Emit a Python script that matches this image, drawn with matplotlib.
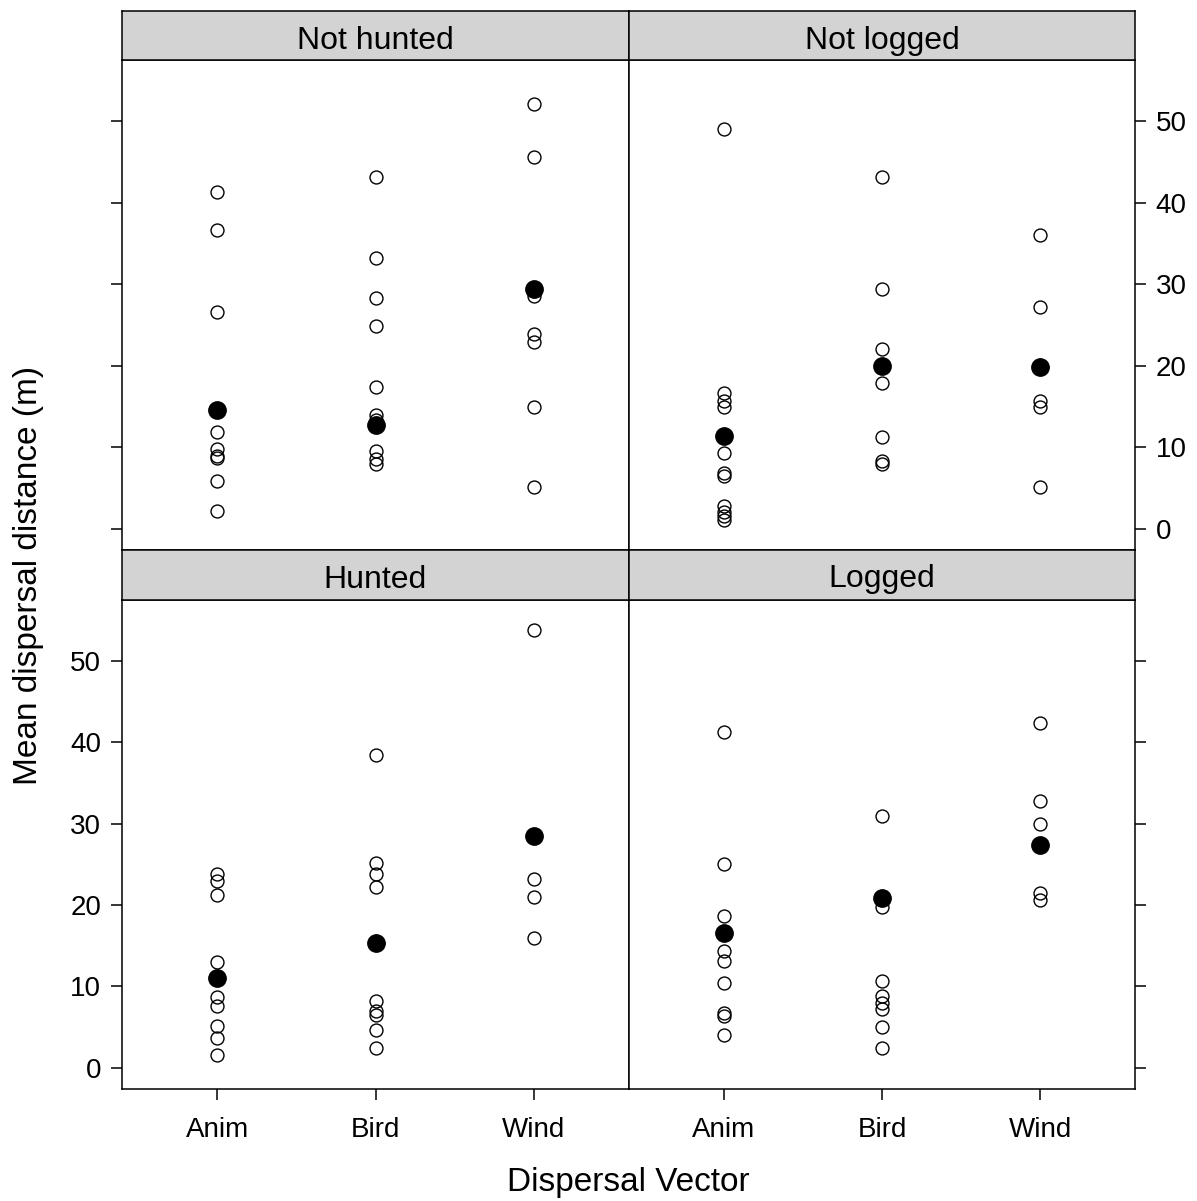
import matplotlib
matplotlib.use('Agg')
import matplotlib.pyplot as plt

plt.rcParams['font.family'] = ['Liberation Sans', 'DejaVu Sans']

# ==============================
# Data
# ==============================

vectors = ['Anim', 'Bird', 'Wind']
panels = ['Not hunted', 'Not logged', 'Hunted', 'Logged']

# individual species values
not_hunted_anim = [41.3, 36.6, 26.6, 11.9, 9.8, 8.9, 8.7, 5.9, 2.2]
not_hunted_bird = [43.2, 33.2, 28.3, 24.9, 17.4, 13.9, 13.3, 9.6, 8.6, 8.0]
not_hunted_wind = [52.1, 45.6, 28.6, 23.9, 22.9, 14.9, 5.1]

not_logged_anim = [49.0, 16.6, 15.7, 14.9, 9.3, 6.9, 6.5, 2.8, 2.1, 1.6, 1.1]
not_logged_bird = [43.2, 29.4, 22.0, 17.9, 11.2, 8.3, 7.9]
not_logged_wind = [36.0, 27.2, 15.7, 14.9, 5.1]

hunted_anim = [23.8, 23.0, 21.3, 13.0, 8.7, 7.6, 5.2, 3.7, 1.6]
hunted_bird = [38.4, 25.2, 23.8, 22.2, 8.2, 7.0, 6.5, 4.6, 2.5]
hunted_wind = [53.8, 23.2, 21.0, 15.9]

logged_anim = [41.3, 25.1, 18.7, 14.4, 13.1, 10.4, 6.8, 6.4, 4.0]
logged_bird = [30.9, 19.8, 10.7, 8.8, 8.0, 7.2, 5.0, 2.5]
logged_wind = [42.4, 32.8, 30.0, 21.5, 20.6]

# group means (filled points)
not_hunted_means = [14.6, 12.7, 29.4]
not_logged_means = [11.4, 20.0, 19.8]
hunted_means = [11.0, 15.3, 28.5]
logged_means = [16.6, 20.9, 27.4]

yticks = [0, 10, 20, 30, 40, 50]

panel_points = {
    'Not hunted': [not_hunted_anim, not_hunted_bird, not_hunted_wind],
    'Not logged': [not_logged_anim, not_logged_bird, not_logged_wind],
    'Hunted': [hunted_anim, hunted_bird, hunted_wind],
    'Logged': [logged_anim, logged_bird, logged_wind],
}
panel_means = {
    'Not hunted': not_hunted_means,
    'Not logged': not_logged_means,
    'Hunted': hunted_means,
    'Logged': logged_means,
}

# ==============================
# Layout
# ==============================

W, H = 1197, 1201
fig = plt.figure(figsize=(W / 100, H / 100), dpi=100)

def fx(px):
    return px / W

def fy(py):
    return 1 - py / H

col_x = [(122, 629), (629, 1135)]
row_y = [(11, 60, 550), (550, 600, 1089)]  # strip top, strip bottom/panel top, panel bottom

tick_fs = 20
strip_fs = 23
label_fs = 24

for i, name in enumerate(panels):
    r, c = divmod(i, 2)
    x0, x1 = col_x[c]
    s_top, p_top, p_bot = row_y[r]

    ax = fig.add_axes([fx(x0), fy(p_bot), fx(x1 - x0), fy(p_top) - fy(p_bot)])
    strip = fig.add_axes([fx(x0), fy(p_top), fx(x1 - x0), fy(s_top) - fy(p_top)])

    # strip
    strip.set_facecolor('#d3d3d3')
    strip.set_xticks([])
    strip.set_yticks([])
    for sp in strip.spines.values():
        sp.set_linewidth(1.1)
    strip.text(0.5, 0.38 if r == 0 else 0.41, name, ha='center', va='center',
               fontsize=strip_fs, transform=strip.transAxes)

    # points
    for k, vals in enumerate(panel_points[name]):
        ax.plot([k + 1] * len(vals), vals, 'o', ms=9.3, mfc='none', mec='black', mew=1.0)
    ax.plot([1, 2, 3], panel_means[name], 'o', ms=12.5, color='black', mec='black')

    ax.set_xlim(0.4, 3.6)
    ax.set_ylim(-2.6, 57.5)
    for sp in ax.spines.values():
        sp.set_linewidth(1.1)

    # y ticks alternate like lattice
    ax.set_yticks(yticks)
    ax.tick_params(axis='y', direction='out', length=8, width=1.1, pad=7,
                   labelsize=tick_fs)
    if c == 0:
        ax.tick_params(axis='y', left=True, right=False, labelleft=(r == 1), labelright=False)
    else:
        ax.tick_params(axis='y', left=False, right=True, labelleft=False, labelright=(r == 0))

    # x ticks only on bottom row
    ax.set_xticks([1, 2, 3])
    ax.set_xticklabels(vectors)
    if r == 1:
        ax.tick_params(axis='x', direction='out', length=8, width=1.1, pad=12.5,
                       labelsize=tick_fs, bottom=True, labelbottom=True)
    else:
        ax.tick_params(axis='x', bottom=False, labelbottom=False)

fig.text(fx(628), fy(1182), 'Dispersal Vector', ha='center', va='center', fontsize=label_fs)
fig.text(fx(29), fy(575), 'Mean dispersal distance (m)', ha='center', va='center',
         rotation=90, fontsize=label_fs)

fig.savefig('out.png', dpi=100)
